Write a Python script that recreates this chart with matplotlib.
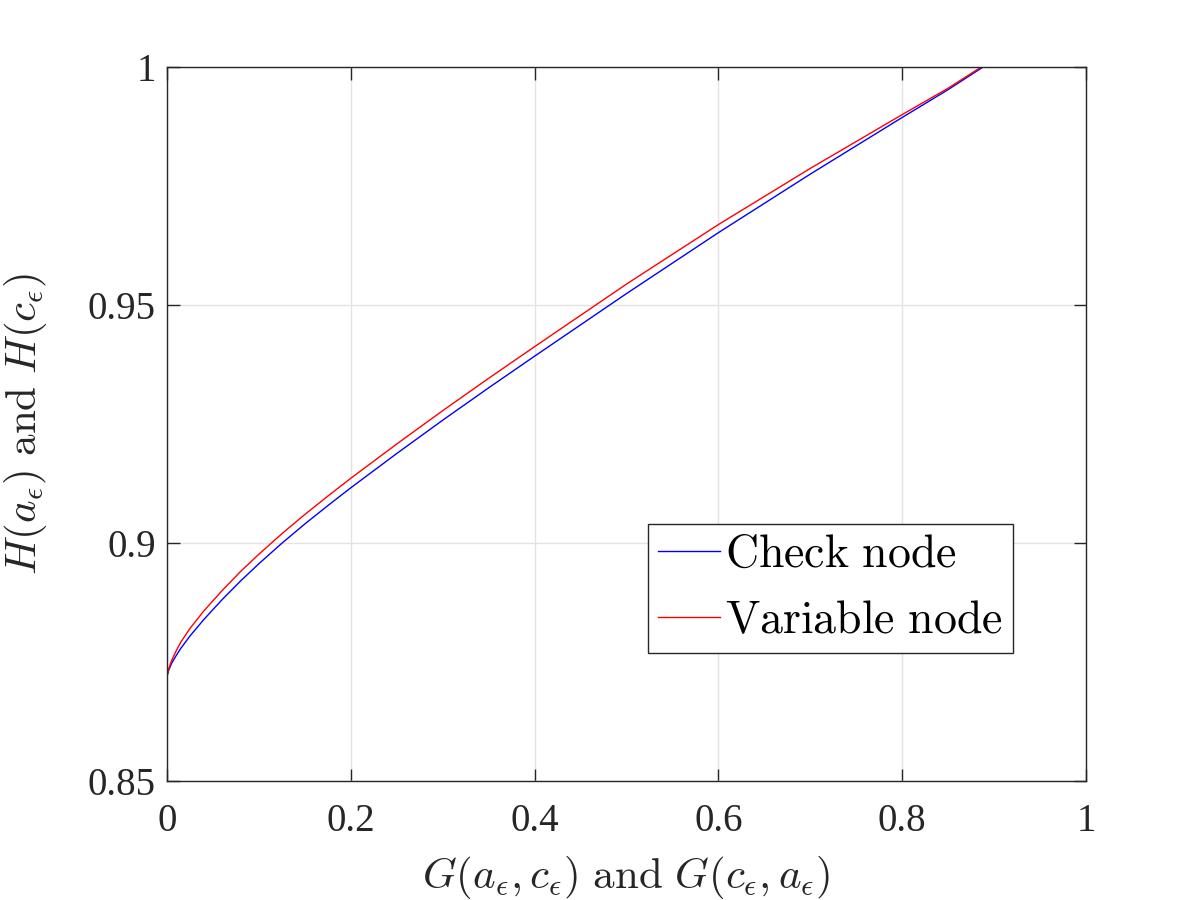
import matplotlib.pyplot as plt

plt.rcParams['font.family'] = ['Liberation Serif', 'DejaVu Serif']
plt.rcParams['mathtext.fontset'] = 'cm'

# values
g_check = [0, 0.002, 0.005, 0.01, 0.015, 0.025, 0.04, 0.06, 0.08, 0.1, 0.125,
           0.15, 0.175, 0.2, 0.25, 0.3, 0.35, 0.4, 0.5, 0.6, 0.7, 0.8, 0.85, 0.888]
h_check = [0.8720, 0.87336, 0.87471, 0.87636, 0.87786, 0.88046, 0.88391,
           0.88811, 0.89201, 0.89565, 0.89995, 0.9040, 0.90785, 0.9116, 0.9188,
           0.9258, 0.9326, 0.93925, 0.9524, 0.9652, 0.9775, 0.9894, 0.99525, 1.0]
g_var = [0, 0.002, 0.005, 0.01, 0.015, 0.025, 0.04, 0.06, 0.08, 0.1, 0.125,
         0.15, 0.175, 0.2, 0.25, 0.3, 0.35, 0.4, 0.5, 0.6, 0.7, 0.8, 0.85, 0.886]
h_var = [0.8720, 0.87366, 0.87531, 0.87736, 0.87916, 0.88206, 0.88571,
         0.89001, 0.89401, 0.89765, 0.90195, 0.9060, 0.90985, 0.9136, 0.9208,
         0.9278, 0.9346, 0.94125, 0.9544, 0.9669, 0.9787, 0.9900, 0.99555, 1.0]

xticks = [0, 0.2, 0.4, 0.6, 0.8, 1]
xticklabels = ['0', '0.2', '0.4', '0.6', '0.8', '1']
yticks = [0.85, 0.9, 0.95, 1]
yticklabels = ['0.85', '0.9', '0.95', '1']

dark = '#262626'

fig = plt.figure(figsize=(12, 9), dpi=100)
ax = fig.add_axes([167/1200, 1 - 781/900, (1086-167)/1200, (781-67)/900])

ax.plot(g_check, h_check, color='blue', lw=1.0, label=r'$\mathrm{Check\ node}$')
ax.plot(g_var, h_var, color='red', lw=1.0, label=r'$\mathrm{Variable\ node}$')

ax.set_xlim(0, 1)
ax.set_ylim(0.85, 1)
ax.set_xticks(xticks)
ax.set_xticklabels(xticklabels)
ax.set_yticks(yticks)
ax.set_yticklabels(yticklabels)

ax.grid(True, color='#e3e3e3', lw=1.0)
ax.tick_params(direction='in', length=9, width=1.0, colors=dark,
               labelsize=28, top=True, right=True)
ax.tick_params(axis='x', pad=16)
ax.tick_params(axis='y', pad=8)
for s in ax.spines.values():
    s.set_color(dark)
    s.set_linewidth(1.0)

ax.set_xlabel(r'$G(a_\epsilon,c_\epsilon)\ \mathrm{and}\ G(c_\epsilon,a_\epsilon)$',
              fontsize=31, color=dark, labelpad=10)
ax.set_ylabel(r'$H(a_\epsilon)\ \mathrm{and}\ H(c_\epsilon)$',
              fontsize=31, color=dark, labelpad=28)

leg = ax.legend(loc='lower left', bbox_to_anchor=((648-167)/919, (781-653)/714),
                fontsize=33, fancybox=False, framealpha=1, edgecolor=dark,
                handlelength=1.35, handletextpad=0.12, borderpad=0.22,
                labelspacing=0.52, borderaxespad=0)
leg.get_frame().set_linewidth(1.0)

fig.savefig('out.png', dpi=100)
